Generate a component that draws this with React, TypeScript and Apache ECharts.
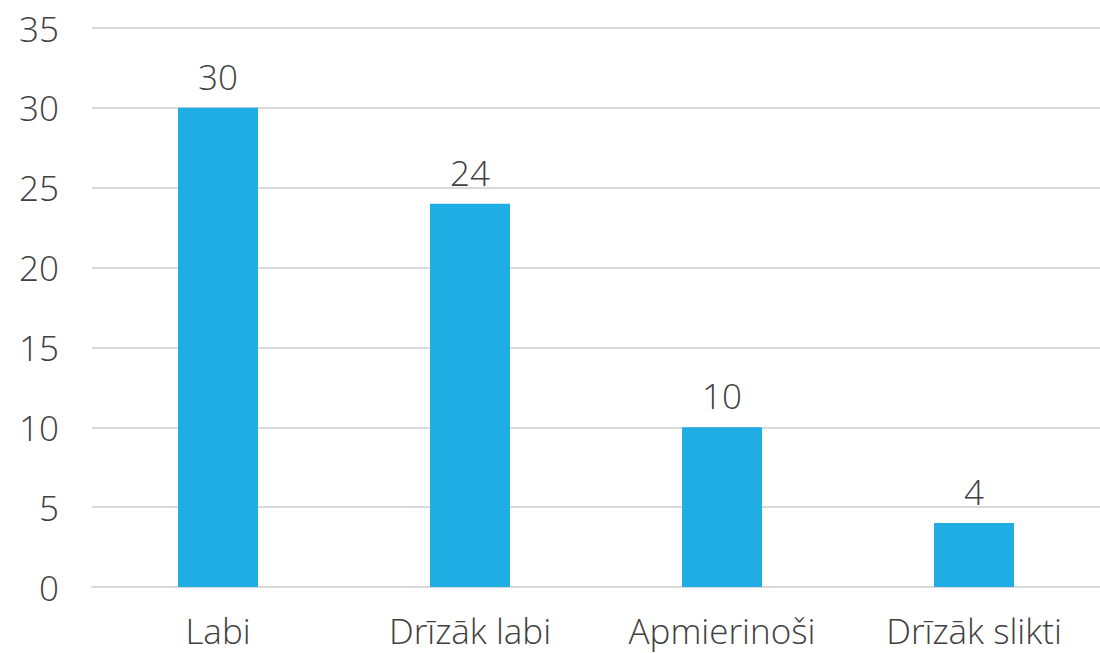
import React, { useEffect, useRef } from "react";
import * as echarts from "echarts";

const categories = ["Labi", "Drīzāk labi", "Apmierinoši", "Drīzāk slikti"];
const values = [30, 24, 10, 4];
const yTicks = { min: 0, max: 35, interval: 5 };

const FONT = "'Open Sans', 'Noto Sans', sans-serif";
const TEXT = "#404040";
const FS = 35;
const FW = 300;

export default function App() {
  const ref = useRef<HTMLDivElement>(null);
  useEffect(() => {
    if (!ref.current) return;
    const chart = echarts.init(ref.current, undefined, { renderer: "svg" });
    chart.setOption({
      animation: false,
      backgroundColor: "#ffffff",
      grid: { left: 92, right: 0, top: 28, bottom: 66, containLabel: false },
      xAxis: {
        type: "category",
        data: categories,
        axisLine: { show: true, lineStyle: { color: "#D9D9D9", width: 2 } },
        axisTick: { show: false },
        axisLabel: { color: TEXT, fontSize: FS, fontWeight: FW, fontFamily: FONT, margin: 26, interval: 0 },
      },
      yAxis: {
        type: "value",
        min: yTicks.min,
        max: yTicks.max,
        interval: yTicks.interval,
        axisLine: { show: false },
        axisTick: { show: false },
        splitLine: { lineStyle: { color: "#D9D9D9", width: 2 } },
        axisLabel: { color: TEXT, fontSize: FS, fontWeight: FW, fontFamily: FONT, margin: 33 },
      },
      series: [
        {
          type: "bar",
          data: values,
          barWidth: 80,
          itemStyle: { color: "#1FADE4" },
          label: {
            show: true,
            position: "top",
            distance: 14,
            color: TEXT,
            fontSize: FS,
            fontWeight: FW,
            fontFamily: FONT,
          },
        },
      ],
    });
    return () => chart.dispose();
  }, []);
  return (
    <div
      ref={ref}
      style={{ position: "fixed", left: 0, top: 0, width: 1100, height: 653 }}
    />
  );
}
